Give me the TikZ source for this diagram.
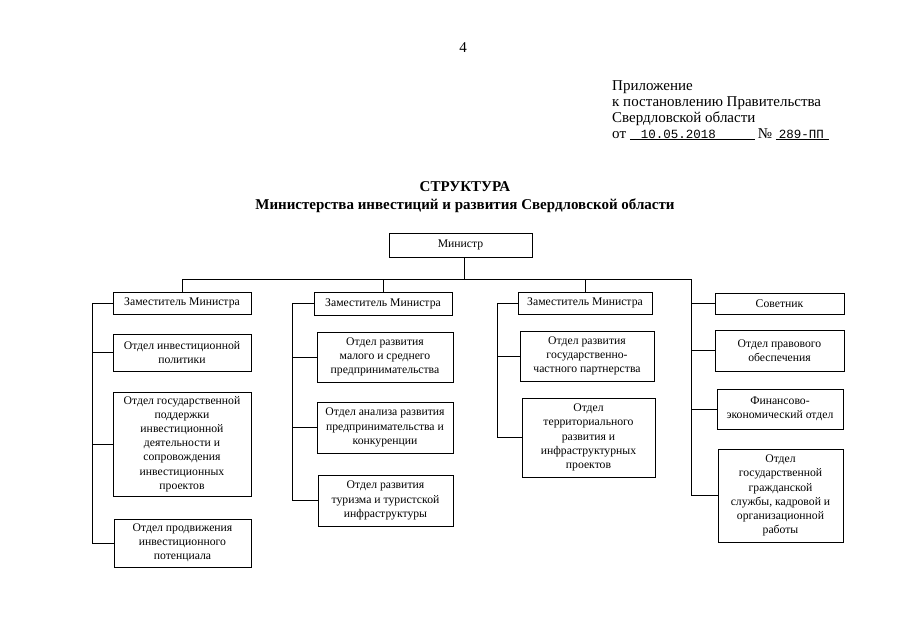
\documentclass[tikz,border=0pt]{standalone}
\usepackage{fontspec}
\setmainfont{Liberation Serif}
\newfontfamily\datefont{Liberation Mono}
\usetikzlibrary{positioning}

\begin{document}
\begin{tikzpicture}[x=1pt,y=-1pt,
  box/.style={draw=black,line width=1pt,align=center,inner xsep=2pt,inner ysep=0pt,
    font=\fontsize{11.7}{14.2}\selectfont},
  link/.style={draw=black,line width=0.7pt}]
\useasboundingbox (0,0) rectangle (905,640);

\node[font=\fontsize{15}{18}\selectfont] (pg) at (463,48) {4};
\node[anchor=north west,align=left,inner sep=0pt,font=\fontsize{15}{16}\selectfont] (appx) at (612,80)
  {Приложение\\к постановлению Правительства\\Свердловской области\\
   от \underline{\hbox to 125pt{\hspace{11pt}\datefont\fontsize{12.5}{14}\selectfont 10.05.2018\hfil}}\hspace{3pt}№
   \underline{\hbox to 53pt{\hspace{3pt}\datefont\fontsize{12.5}{14}\selectfont 289-ПП\hfil}}};
\node[align=center,font=\fontsize{15}{18}\selectfont\bfseries] (title) at (465,197)
  {СТРУКТУРА\\Министерства инвестиций и развития Свердловской области};

\node[box,minimum width=143pt,minimum height=24pt] (min) at (460.5,245) {Министр};
\node[box,minimum width=138pt,minimum height=22pt] (dep1) at (182,303) {Заместитель Министра};
\node[box,minimum width=138pt,minimum height=23pt] (dep2) at (383,303.5) {Заместитель Министра};
\node[box,minimum width=134pt,minimum height=22pt] (dep3) at (585,303) {Заместитель Министра};
\node[box,minimum width=129pt,minimum height=21pt] (adv) at (779.5,303.5) {Советник};

\node[box,minimum width=138pt,minimum height=37pt] (o11) at (182,352.5) {Отдел инвестиционной\\политики};
\node[box,minimum width=138pt,minimum height=104pt] (o12) at (182,444)
  {Отдел государственной\\поддержки\\инвестиционной\\деятельности и\\сопровождения\\инвестиционных\\проектов};
\node[box,minimum width=137pt,minimum height=48pt] (o13) at (182.5,543) {Отдел продвижения\\инвестиционного\\потенциала};

\node[box,minimum width=136pt,minimum height=50pt] (o21) at (385,357) {Отдел развития\\малого и среднего\\предпринимательства};
\node[box,minimum width=136pt,minimum height=51pt] (o22) at (385,427.5) {Отдел анализа развития\\предпринимательства и\\конкуренции};
\node[box,minimum width=135pt,minimum height=51pt] (o23) at (385.5,500.5) {Отдел развития\\туризма и туристской\\инфраструктуры};

\node[box,minimum width=134pt,minimum height=50pt] (o31) at (587,356) {Отдел развития\\государственно-\\частного партнерства};
\node[box,minimum width=133pt,minimum height=79pt] (o32) at (588.5,437.5)
  {Отдел\\территориального\\развития и\\инфраструктурных\\проектов};

\node[box,minimum width=129pt,minimum height=41pt] (o41) at (779.5,350.5) {Отдел правового\\обеспечения};
\node[box,minimum width=126pt,minimum height=40pt] (o42) at (780,409) {Финансово-\\экономический отдел};
\node[box,minimum width=125pt,minimum height=93pt] (o43) at (780.5,495.5)
  {Отдел\\государственной\\гражданской\\службы, кадровой и\\организационной\\работы};

\coordinate (bus) at (691,279);
\coordinate (s1) at (92,0);
\coordinate (s2) at (292,0);
\coordinate (s3) at (497,0);

\draw[link] (dep1.north) |- (bus) |- (o43.west);
\draw[link] ([xshift=4pt]min.south) -- ([xshift=4pt]min.south |- bus);
\foreach \d in {dep2,dep3} \draw[link] (\d.north) -- (\d.north |- bus);
\foreach \n in {adv,o41,o42} \draw[link] (bus |- \n.west) -- (\n.west);

\draw[link] (dep1.west) -| (s1 |- o13.west) -- (o13.west);
\foreach \n in {o11,o12} \draw[link] (s1 |- \n.west) -- (\n.west);
\draw[link] (dep2.west) -| (s2 |- o23.west) -- (o23.west);
\foreach \n in {o21,o22} \draw[link] (s2 |- \n.west) -- (\n.west);
\draw[link] (dep3.west) -| (s3 |- o32.west) -- (o32.west);
\draw[link] (s3 |- o31.west) -- (o31.west);

\end{tikzpicture}
\end{document}
